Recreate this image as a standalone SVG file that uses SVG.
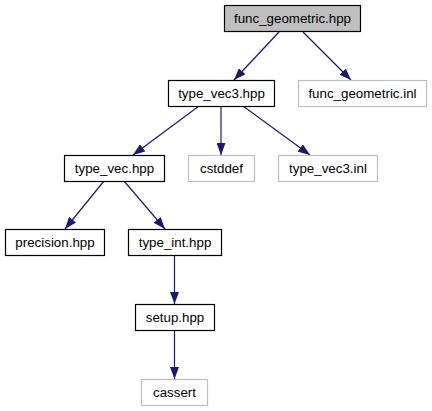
<svg xmlns="http://www.w3.org/2000/svg" width="432" height="411" viewBox="0 0 432 411">
<defs>
<style>
.n rect{fill:#ffffff;stroke:#000000;stroke-width:1.2}
.n.ext rect{stroke:#bfbfbf}
.n.cur rect{fill:#bfbfbf}
.n text{font-family:"Liberation Sans",Arial,Helvetica,sans-serif;font-size:13.33px;fill:#000000;text-anchor:middle}
.e line{stroke:#191970;stroke-width:1.2;fill:none;marker-end:url(#ah)}
</style>
<marker id="ah" viewBox="0 0 12 9" refX="12" refY="4.5" markerWidth="12" markerHeight="9" markerUnits="userSpaceOnUse" orient="auto">
<path d="M0,0 L12,4.5 L0,9 z" fill="#191970"/>
</marker>
</defs>
<rect width="432" height="411" fill="#ffffff"/>
<g id="edges" class="e">
<line x1="279" y1="32" x2="234" y2="80"/>
<line x1="303" y1="32" x2="351" y2="80"/>
<line x1="199" y1="106" x2="133" y2="155"/>
<line x1="221" y1="106" x2="221" y2="155"/>
<line x1="243" y1="106" x2="310" y2="155"/>
<line x1="104" y1="181" x2="65" y2="229"/>
<line x1="124" y1="181" x2="165" y2="229"/>
<line x1="174.5" y1="255" x2="174.5" y2="304"/>
<line x1="174.5" y1="330" x2="174.5" y2="379"/>
</g>
<g id="func_geometric_hpp" class="n cur"><rect x="224.5" y="5.5" width="136" height="26"/><text x="292.5" y="23">func_geometric.hpp</text></g>
<g id="type_vec3_hpp" class="n"><rect x="168.5" y="80.5" width="106" height="26"/><text x="221.5" y="98">type_vec3.hpp</text></g>
<g id="func_geometric_inl" class="n ext"><rect x="298.5" y="80.5" width="128" height="26"/><text x="362.5" y="98">func_geometric.inl</text></g>
<g id="type_vec_hpp" class="n"><rect x="64.5" y="155.5" width="100" height="26"/><text x="114.5" y="173">type_vec.hpp</text></g>
<g id="cstddef" class="n ext"><rect x="188.5" y="155.5" width="66" height="26"/><text x="221.5" y="173">cstddef</text></g>
<g id="type_vec3_inl" class="n ext"><rect x="278.5" y="155.5" width="99" height="26"/><text x="328" y="173">type_vec3.inl</text></g>
<g id="precision_hpp" class="n"><rect x="5.5" y="229.5" width="99" height="26"/><text x="55" y="247">precision.hpp</text></g>
<g id="type_int_hpp" class="n"><rect x="128.5" y="229.5" width="93" height="26"/><text x="175" y="247">type_int.hpp</text></g>
<g id="setup_hpp" class="n"><rect x="135.5" y="304.5" width="79" height="26"/><text x="175" y="322">setup.hpp</text></g>
<g id="cassert" class="n ext"><rect x="141.5" y="379.5" width="66" height="26"/><text x="174.5" y="397">cassert</text></g>
</svg>
